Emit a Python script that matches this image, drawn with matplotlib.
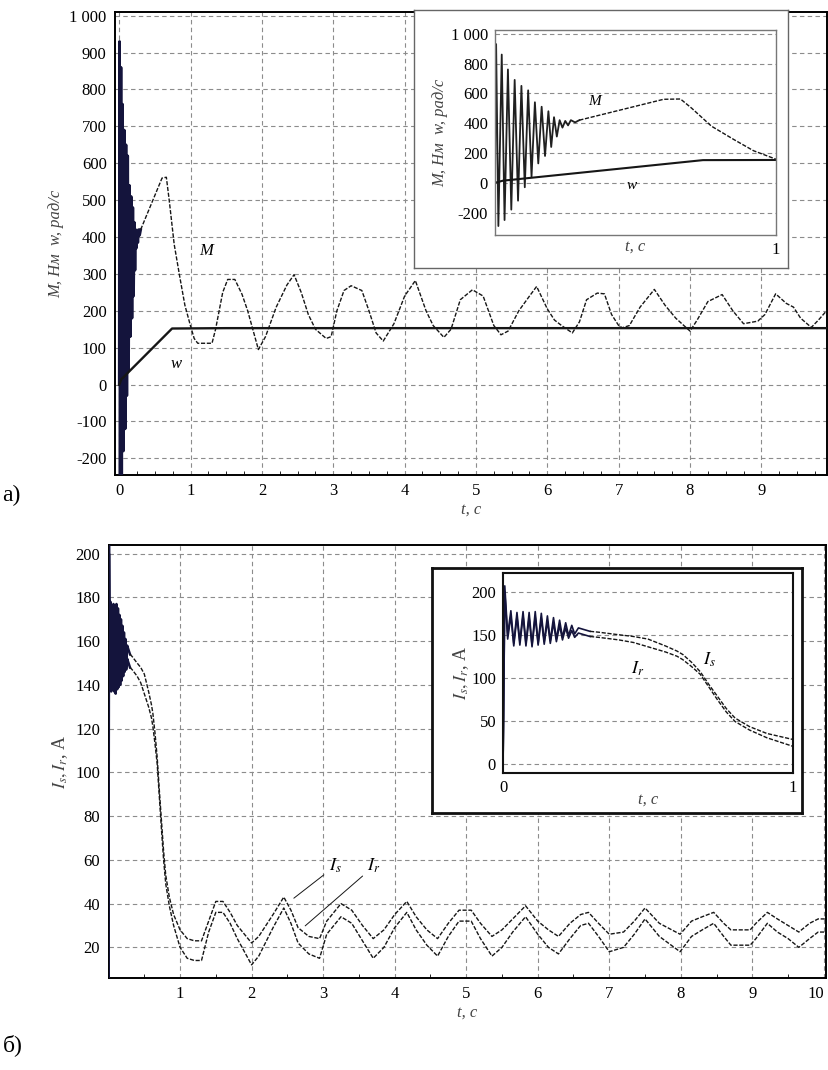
import numpy as np
import matplotlib
matplotlib.use("Agg")
import matplotlib.pyplot as plt
from matplotlib.ticker import FuncFormatter, MultipleLocator

plt.rcParams['font.family'] = ['Liberation Serif', 'DejaVu Serif']
plt.rcParams['mathtext.fontset'] = 'stix'

# --- torque M and speed w (panel a) ---
# start-up oscillation
t_M_osc = [0, 0.004, 0.012, 0.024, 0.034, 0.046, 0.058, 0.070, 0.082, 0.094,
           0.106, 0.118, 0.130, 0.142, 0.154, 0.166, 0.178, 0.190, 0.200, 0.210,
           0.220, 0.230, 0.240, 0.250, 0.260, 0.270, 0.285, 0.300]
M_osc = [0, 930, -290, 860, -250, 760, -180, 690, -120, 650,
         -30, 620, 40, 540, 130, 510, 180, 480, 240, 440,
         310, 420, 370, 415, 385, 420, 405, 420]
# smooth part
t_M = [0.30, 0.45, 0.60, 0.66, 0.70, 0.77, 0.85, 0.92, 1.0, 1.05, 1.1, 1.3, 1.35,
       1.45, 1.52, 1.62, 1.72, 1.8, 1.95, 2.05, 2.2, 2.35, 2.45, 2.55, 2.65,
       2.75, 2.9, 2.97, 3.05, 3.15, 3.25, 3.4, 3.5, 3.6, 3.7, 3.85, 4.0, 4.15,
       4.3, 4.4, 4.55, 4.65, 4.78, 4.95, 5.1, 5.25, 5.35, 5.45, 5.6, 5.75, 5.85,
       6.0, 6.1, 6.2, 6.35, 6.45, 6.55, 6.7, 6.8, 6.9, 7.0, 7.05, 7.15, 7.3,
       7.5, 7.65, 7.8, 8.0, 8.1, 8.25, 8.45, 8.6, 8.75, 8.95, 9.05, 9.2, 9.35,
       9.45, 9.55, 9.7, 9.8, 9.95]
M = [420, 490, 560, 562, 500, 380, 290, 215, 158, 125, 112, 112, 150,
     250, 285, 285, 245, 200, 95, 130, 210, 270, 298, 250, 190,
     150, 125, 130, 200, 255, 268, 255, 200, 140, 118, 165, 240, 282,
     200, 160, 128, 150, 230, 257, 240, 160, 135, 145, 200, 240, 266,
     205, 175, 160, 140, 170, 230, 248, 246, 190, 160, 154, 160, 210,
     258, 215, 180, 145, 175, 225, 244, 200, 165, 172, 190, 246, 220,
     210, 180, 155, 175, 208]
t_w = [0, 0.03, 0.06, 0.10, 0.74, 1.5, 3.0, 5.0, 7.0, 9.0, 9.95]
w = [0, 15, 20, 28, 152, 153, 153, 153, 153, 153, 153]

# --- stator / rotor currents (panel b) ---
t_I_osc = [0, 0.002, 0.006, 0.016, 0.027, 0.037, 0.048, 0.058, 0.069, 0.079,
           0.090, 0.100, 0.111, 0.121, 0.132, 0.142, 0.153, 0.163, 0.174, 0.184,
           0.195, 0.205, 0.216, 0.226, 0.237, 0.247, 0.260, 0.280, 0.300]
Is_osc = [0, 55, 207, 150, 178, 140, 176, 142, 177, 140,
          176, 138, 177, 140, 175, 142, 172, 143, 170, 145,
          167, 147, 164, 149, 161, 151, 158, 156, 154]
Ir_osc = [0, 50, 200, 145, 172, 137, 171, 138, 172, 137,
          170, 136, 171, 138, 169, 139, 166, 140, 164, 142,
          161, 144, 158, 146, 155, 147, 152, 150, 148]
t_I = [0.30, 0.33, 0.40, 0.45, 0.50, 0.56, 0.60, 0.62, 0.65, 0.68, 0.71, 0.74,
       0.77, 0.80, 0.85, 0.91, 1.0, 1.1, 1.2, 1.3, 1.4, 1.5, 1.6, 1.7, 1.8,
       2.0, 2.1, 2.3, 2.45, 2.55, 2.65, 2.8, 2.95, 3.05, 3.25, 3.4, 3.55, 3.7,
       3.85, 4.0, 4.17, 4.3, 4.45, 4.6, 4.75, 4.9, 5.07, 5.2, 5.36, 5.5, 5.65,
       5.83, 6.0, 6.15, 6.29, 6.45, 6.6, 6.71, 6.85, 7.0, 7.2, 7.35, 7.5, 7.7,
       7.99, 8.15, 8.3, 8.46, 8.6, 8.7, 8.97, 9.05, 9.21, 9.35, 9.5, 9.65, 9.8,
       9.92, 10.05]
Is = [154, 153, 150, 148, 145, 137, 131, 127, 118, 107, 92, 78,
      64, 53, 43, 35, 28, 24, 23, 23, 32, 41, 41, 36, 30,
      22, 25, 35, 43, 37, 29, 25, 24, 32, 40, 37, 30, 24,
      28, 35, 41, 34, 28, 24, 31, 37, 37, 31, 25, 28, 33,
      39, 32, 28, 25, 31, 35, 36, 31, 26, 27, 32, 38, 31,
      26, 32, 34, 36, 31, 28, 28, 31, 36, 33, 30, 27, 31,
      33, 33]
Ir = [148, 147, 144, 141, 136, 130, 125, 121, 113, 104, 89, 74,
      60, 49, 39, 30, 20, 15, 14, 14, 27, 36, 36, 31, 24,
      12, 16, 29, 38, 31, 22, 17, 15, 26, 34, 31, 23, 15,
      20, 29, 36, 28, 21, 16, 25, 32, 32, 24, 16, 20, 27,
      34, 26, 20, 17, 24, 30, 31, 25, 18, 20, 26, 33, 25,
      18, 25, 28, 31, 25, 21, 21, 24, 31, 27, 24, 20, 24,
      27, 27]

navy = '#14143c'
ink = '#161616'
dash = (0, (3, 1.2))
gridkw = dict(color='#8c8c8c', ls=(0, (4, 3)), lw=0.8)


def thousands(v, pos):
    return '1 000' if abs(v - 1000) < 1e-6 else f'{v:g}'


def slice_to(t, y, tmax):
    t = np.asarray(t)
    y = np.asarray(y)
    keep = t <= tmax + 1e-9
    return t[keep], y[keep]


fig = plt.figure(figsize=(8.29, 10.70), dpi=100)

# ================= panel a =================
ax1 = fig.add_axes([0.1387, 0.5561, 0.8589, 0.4327])
ax1.plot(t_M_osc, M_osc, color=navy, lw=2.0, zorder=3)
ax1.plot(t_M, M, color=ink, lw=1.0, ls=dash, zorder=3)
ax1.plot(t_w, w, color=ink, lw=1.7, zorder=4)
ax1.set_xlim(-0.06, 9.92)
ax1.set_ylim(-245, 1010)
ax1.set_xticks(range(0, 10))
ax1.set_yticks(range(-200, 1001, 100))
ax1.xaxis.set_minor_locator(MultipleLocator(0.25))
ax1.yaxis.set_major_formatter(FuncFormatter(thousands))
ax1.tick_params(which='both', direction='in', labelsize=12)
ax1.tick_params(which='major', length=0, pad=6)
ax1.tick_params(which='minor', length=3)
ax1.grid(True, **gridkw)
for s in ax1.spines.values():
    s.set_linewidth(1.4)
ax1.set_xlabel('t, c', style='italic', fontsize=12, color='#444', labelpad=2)
ax1.set_ylabel('M, Нм  w, рад/с', style='italic', fontsize=12, color='#444', labelpad=4)
ax1.text(1.12, 350, 'M', style='italic', fontsize=12)
ax1.text(0.72, 45, 'w', style='italic', fontsize=12)

# inset a
box1 = fig.add_axes([0.4994, 0.7495, 0.4511, 0.2411], zorder=5)
box1.set_xticks([])
box1.set_yticks([])
box1.set_facecolor('white')
for s in box1.spines.values():
    s.set_color('#666')
    s.set_linewidth(1.0)

in1 = fig.add_axes([0.5971, 0.7804, 0.3390, 0.1916], zorder=6)
tm, mm = slice_to(t_M, M, 1.0)
tw, ww = slice_to(t_w, w, 1.0)
in1.plot(t_M_osc, M_osc, color='#202020', lw=1.3)
in1.plot(tm, mm, color=ink, lw=1.0, ls=dash)
in1.plot(list(tw) + [1.0], list(ww) + [153], color=ink, lw=1.5)
in1.set_xlim(0, 1.0)
in1.set_ylim(-350, 1025)
in1.set_xticks([1])
in1.set_yticks(range(-200, 1001, 200))
in1.yaxis.set_major_formatter(FuncFormatter(thousands))
in1.tick_params(length=0, labelsize=12, pad=5)
in1.grid(True, axis='y', **gridkw)
for s in in1.spines.values():
    s.set_color('#777')
    s.set_linewidth(1.0)
in1.set_xlabel('t, c', style='italic', fontsize=12, color='#444', labelpad=-14)
in1.set_ylabel('M, Нм  w, рад/с', style='italic', fontsize=12, color='#444', labelpad=2)
in1.text(0.33, 520, 'M', style='italic', fontsize=11)
in1.text(0.47, -40, 'w', style='italic', fontsize=11)

# ================= panel b =================
ax2 = fig.add_axes([0.1309, 0.0860, 0.8655, 0.4047])
ax2.plot(t_I_osc, Is_osc, color=navy, lw=1.8, zorder=3)
ax2.plot(t_I_osc, Ir_osc, color=navy, lw=1.8, zorder=3)
ax2.plot(t_I, Is, color=ink, lw=1.0, ls=dash, zorder=3)
ax2.plot(t_I, Ir, color=ink, lw=1.0, ls=dash, zorder=3)
ax2.set_xlim(0, 10.03)
ax2.set_ylim(6, 204)
ax2.set_xticks(range(1, 11))
ax2.set_yticks(range(20, 201, 20))
ax2.xaxis.set_minor_locator(MultipleLocator(0.5))
ax2.tick_params(which='both', direction='in', labelsize=12)
ax2.tick_params(which='major', length=0, pad=6)
ax2.tick_params(which='minor', length=3)
ax2.grid(True, **gridkw)
ax2.get_xticklabels()[-1].set_ha('right')
for s in ax2.spines.values():
    s.set_linewidth(1.4)
ax2.set_xlabel('t, c', style='italic', fontsize=12, color='#444', labelpad=2)
ax2.set_ylabel('$I_s, I_r$, А', fontsize=13, color='#444', labelpad=4)
ax2.annotate('$I_s$', xy=(2.56, 41.7), xytext=(3.08, 55), fontsize=13,
             arrowprops=dict(arrowstyle='-', color=ink, lw=0.7))
ax2.annotate('$I_r$', xy=(2.72, 29), xytext=(3.62, 55), fontsize=13,
             arrowprops=dict(arrowstyle='-', color=ink, lw=0.7))

# inset b
box2 = fig.add_axes([0.5211, 0.2402, 0.4463, 0.2290], zorder=5)
box2.set_xticks([])
box2.set_yticks([])
box2.set_facecolor('white')
for s in box2.spines.values():
    s.set_color('#111')
    s.set_linewidth(2.0)

in2 = fig.add_axes([0.6068, 0.2776, 0.3498, 0.1869], zorder=6)
ts, iss = slice_to(t_I, Is, 1.0)
tr, irr = slice_to(t_I, Ir, 1.0)
in2.plot(t_I_osc, Is_osc, color=navy, lw=1.2)
in2.plot(t_I_osc, Ir_osc, color=navy, lw=1.2)
in2.plot(ts, iss, color=ink, lw=1.0, ls=dash)
in2.plot(tr, irr, color=ink, lw=1.0, ls=dash)
in2.set_xlim(0, 1.0)
in2.set_ylim(-11, 222)
in2.set_xticks([0, 1])
in2.set_yticks(range(0, 201, 50))
in2.tick_params(length=0, labelsize=12, pad=5)
in2.grid(True, axis='y', **gridkw)
for s in in2.spines.values():
    s.set_color('#111')
    s.set_linewidth(1.5)
in2.set_xlabel('t, c', style='italic', fontsize=12, color='#444', labelpad=-3)
in2.set_ylabel('$I_s, I_r$, А', fontsize=13, color='#444', labelpad=0)
in2.text(0.44, 105, '$I_r$', fontsize=13)
in2.text(0.69, 115, '$I_s$', fontsize=13)

fig.text(0.003, 0.537, 'а)', fontsize=17, va='center')
fig.text(0.003, 0.023, 'б)', fontsize=17, va='center')

fig.savefig('out.png', dpi=100)
